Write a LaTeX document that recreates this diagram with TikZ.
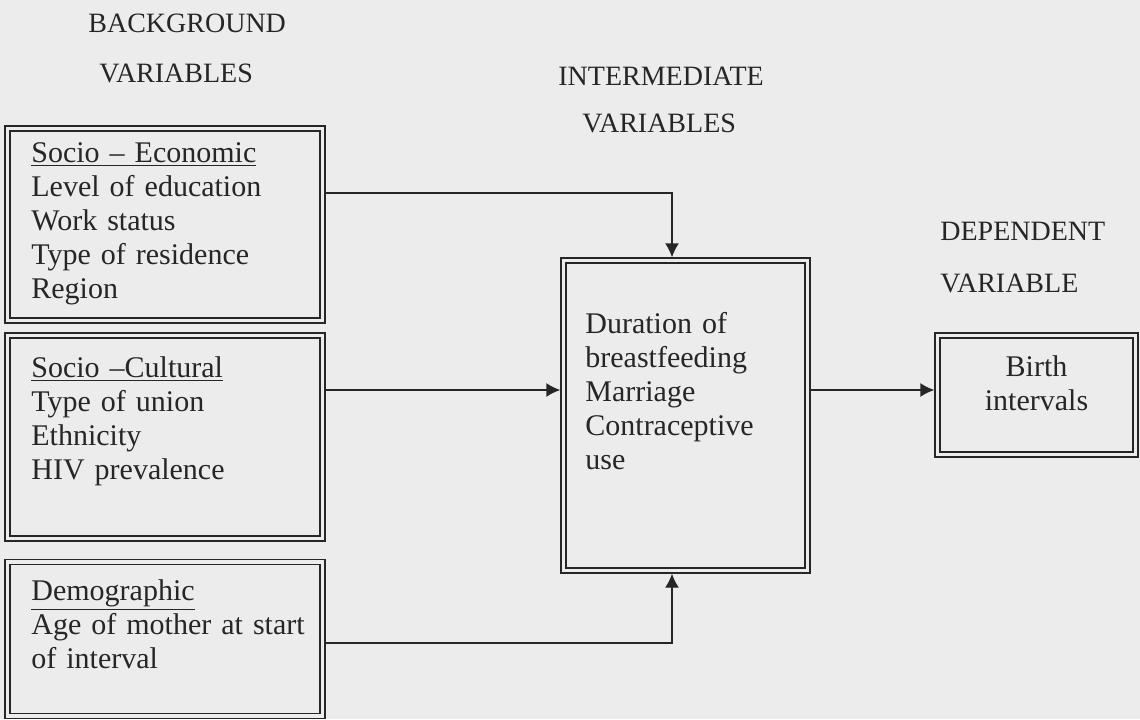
\documentclass[tikz,border=0pt]{standalone}
\usepackage{fontspec}
\setmainfont{Liberation Serif}
\usetikzlibrary{arrows.meta,positioning}

\definecolor{paper}{RGB}{236,236,236}
\definecolor{ink}{RGB}{38,38,38}

\begin{document}
\begin{tikzpicture}[
    x=0.5pt, y=-0.5pt,
    font=\fontsize{15}{17}\selectfont,
    color=ink,
    varbox/.style={
        draw=ink,
        double=paper,
        double distance=1.6pt,
        line width=0.8pt,
        inner sep=0pt,
        outer sep=1.6pt
    },
    bgbox/.style={
        varbox,
        minimum width=157.5pt
    },
    boxtext/.style={
        align=left,
        text width=150pt,
        inner sep=0pt,
        anchor=base west
    },
    heading/.style={
        font=\fontsize{14}{16}\selectfont,
        inner sep=0pt,
        anchor=base west
    },
    flow/.style={
        -{Latex[length=7pt,width=7pt]},
        line width=0.7pt
    }
]

\path[use as bounding box, fill=paper] (0,0) rectangle (1140,719);

% Column headings
\node[heading] (bghead) at (88,32) {BACKGROUND};
\node[heading] (bgvars) at (99,82) {VARIABLES};
\node[heading] (inthead) at (558,85) {INTERMEDIATE};
\node[heading] (intvars) at (582,132) {VARIABLES};
\node[heading] (dephead) at (940,240) {DEPENDENT};
\node[heading] (depvar) at (940,292) {VARIABLE};

% Background variables
\node[bgbox, minimum height=96pt] (econ) at (165,224.5) {};
\node[boxtext] (econtxt) at (31,162) {
    \underline{Socio -- Economic}\\
    Level of education\\
    Work status\\
    Type of residence\\
    Region
};

\node[bgbox, minimum height=101.5pt] (cult) at (165,437) {};
\node[boxtext] (culttxt) at (31,377) {
    \underline{Socio --Cultural}\\
    Type of union\\
    Ethnicity\\
    HIV prevalence
};

\node[bgbox, minimum height=77pt] (demo) at (165,639) {};
\node[boxtext] (demotxt) at (31,600) {
    \underline{Demographic}\\
    Age of mother at start\\
    of interval
};

% Intermediate and dependent variables
\node[varbox, minimum width=122pt, minimum height=155pt] (inter) at (685.5,415.5) {};
\node[boxtext] (intertxt) at (585,333) {
    Duration of\\
    breastfeeding\\
    Marriage\\
    Contraceptive\\
    use
};

\node[varbox, minimum width=99pt, minimum height=59.5pt] (birth) at (1036.5,395) {};
\node[boxtext, text width=90pt, align=center, anchor=base] (birthtxt) at (1036.5,376) {
    Birth\\
    intervals
};

% Paths of influence
\draw[flow]
    ([yshift=15.75pt]econ.east)
    -| ([xshift=-6.75pt]inter.north);

\draw[flow]
    ([yshift=23.5pt]cult.east) coordinate (cultout)
    -- (cultout -| inter.west);

\draw[flow]
    ([yshift=-2pt]demo.east)
    -| ([xshift=-6.75pt]inter.south);

\coordinate (birthin) at ([yshift=2.5pt]birth.west);
\draw[flow] (inter.east |- birthin) -- (birthin);

\end{tikzpicture}
\end{document}
